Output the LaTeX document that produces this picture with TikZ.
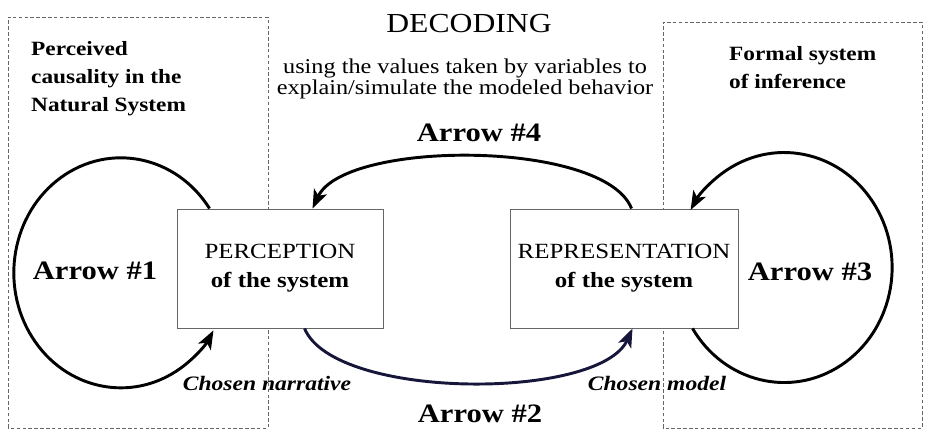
\documentclass[tikz,border=0pt]{standalone}
\usepackage{fontspec}
\setmainfont{Liberation Serif}[FakeStretch=1.15]
\usetikzlibrary{arrows.meta,calc}
\definecolor{arrowtwo}{RGB}{22,22,58}

\begin{document}
\begin{tikzpicture}[x=0.03cm,y=0.03cm,
  sysbox/.style={draw=black!60,line width=0.8pt,dash pattern=on 3pt off 2pt},
  statebox/.style={draw=black!60,fill=white,line width=0.8pt,minimum height=3.57cm,align=center,inner sep=0pt,font=\fontsize{18.5}{24.7}\selectfont},
  loopline/.style={line width=2.5pt,-{Stealth[length=16pt,width=12pt,inset=4pt]}},
  arrowlbl/.style={font=\fontsize{22.7}{26}\selectfont\bfseries},
  chosen/.style={font=\fontsize{17.5}{20}\selectfont\bfseries\itshape},
  systitle/.style={anchor=north west,align=left,inner sep=0pt,font=\fontsize{17.3}{24}\selectfont\bfseries}
]
\useasboundingbox (0,0) rectangle (926,430);
% the two systems
\draw[sysbox] (8,2) rectangle (268,413);
\draw[sysbox] (663,2) rectangle (922,408);
\node[systitle] (natsys) at (31,389) {Perceived\\causality in the\\Natural System};
\node[systitle] (formsys) at (729,384) {Formal system\\of inference};
% decoding
\node[font=\fontsize{23.5}{28}\selectfont] (dec) at (469,406) {DECODING};
\node[font=\fontsize{18}{18.5}\selectfont,align=center] (decnote) at (465,351) {using the values taken by variables to\\explain/simulate the modeled behavior};
% the two boxes
\node[statebox,minimum width=6.18cm] (perc) at (280,161.5) {PERCEPTION\\\textbf{of the system}};
\node[statebox,minimum width=6.84cm] (repr) at (624,161.5) {REPRESENTATION\\\textbf{of the system}};
% arrows
\draw[loopline] ($(perc.north west)+(33,0)$) arc[start angle=34,end angle=330,x radius=107,y radius=115];
\draw[loopline] ($(repr.south west)+(183,0)$) arc[start angle=-148,end angle=150,x radius=108,y radius=115];
\draw[loopline] ($(repr.north west)+(122,0)$) .. controls +(-27,69) and +(32,69) .. ($(perc.north west)+(136,0)$);
\draw[loopline,draw=arrowtwo] ($(perc.south west)+(128,0)$) .. controls +(30,-72) and +(-33,-72) .. ($(repr.south west)+(123,0)$);
\node[arrowlbl] (lbl1) at (95,159) {Arrow \#1};
\node[arrowlbl] (lbl2) at (480,16) {Arrow \#2};
\node[arrowlbl] (lbl3) at (810,158) {Arrow \#3};
\node[arrowlbl] (lbl4) at (479,297) {Arrow \#4};
\node[chosen] (narr) at (267,47) {Chosen narrative};
\node[chosen] (model) at (657,47) {Chosen model};
\end{tikzpicture}
\end{document}
